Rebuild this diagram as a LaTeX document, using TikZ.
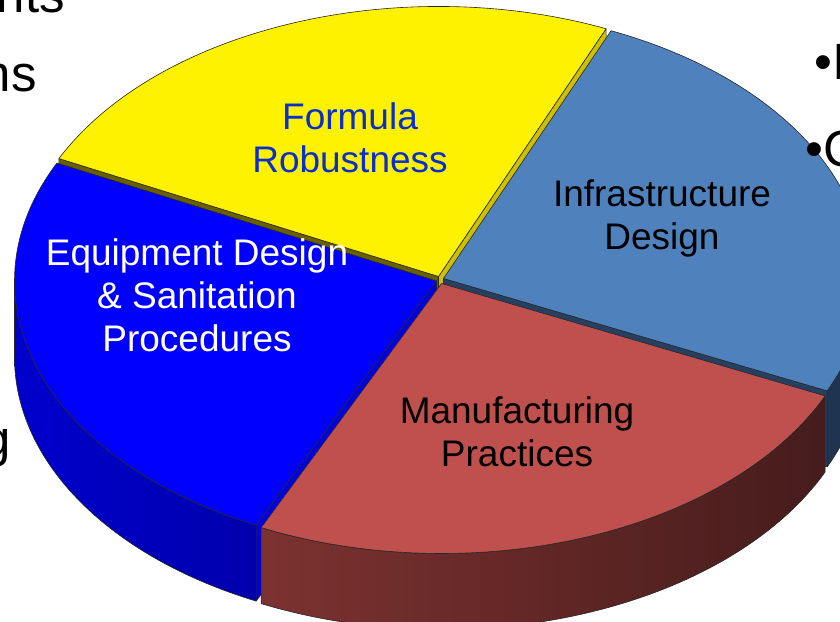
\documentclass[tikz,border=0pt]{standalone}
\usepackage{fontspec}
\setmainfont{Liberation Sans}
\definecolor{ytop}{RGB}{255,242,0}
\definecolor{ycutA}{RGB}{205,192,0}
\definecolor{ycutB}{RGB}{105,95,0}
\definecolor{btop}{RGB}{0,0,255}
\definecolor{bcut}{RGB}{0,0,228}
\definecolor{bsideL}{RGB}{0,0,205}
\definecolor{bsideR}{RGB}{0,0,172}
\definecolor{stop}{RGB}{79,129,189}
\definecolor{scut}{RGB}{38,64,98}
\definecolor{sside}{RGB}{31,52,80}
\definecolor{rtop}{RGB}{192,80,77}
\definecolor{rsideL}{RGB}{124,50,48}
\definecolor{rsideR}{RGB}{70,28,28}
\definecolor{formulablue}{RGB}{10,45,205}
\begin{document}
\begin{tikzpicture}[x=1pt,y=1pt,
  edge/.style={draw=black!85,line width=0.6pt,line join=round},
  slicelabel/.style={font=\fontsize{37}{43}\selectfont,align=center,inner sep=0pt},
  slidetext/.style={font=\fontsize{51}{60}\selectfont,inner sep=0pt,text=black}]
\useasboundingbox (0,0) rectangle (840,621);
\clip (0,0) rectangle (840,621);

% ---- Formula Robustness (back slice) ----
\begin{scope}[shift={(438.5,344.5)}]
  \coordinate (yc) at (0,0);
  \filldraw[edge,fill=ycutA] (yc) -- (66.6:422 and 270) -- ++(0,-76) -- (0,-76) -- cycle;
  \filldraw[edge,fill=ycutB] (yc) -- (154.1:422 and 270) -- ++(0,-76) -- (0,-76) -- cycle;
  \filldraw[edge,fill=ytop] (yc) -- (66.6:422 and 270)
    arc[start angle=66.6,end angle=154.1,x radius=422,y radius=270] -- cycle;
\end{scope}

% ---- Infrastructure Design ----
\begin{scope}[shift={(443.5,342.5)}]
  \coordinate (sc) at (0,0);
  \filldraw[edge,fill=scut] (sc) -- (335.4:422 and 270) -- ++(0,-76) -- (0,-76) -- cycle;
  \filldraw[edge,fill=sside] (335.4:422 and 270)
    arc[start angle=335.4,end angle=360,x radius=422,y radius=270] -- ++(0,-76)
    arc[start angle=360,end angle=335.4,x radius=422,y radius=270] -- cycle;
  \filldraw[edge,fill=stop] (sc) -- (335.4:422 and 270)
    arc[start angle=335.4,end angle=426.6,x radius=422,y radius=270] -- cycle;
\end{scope}

% ---- Equipment Design & Sanitation Procedures ----
\begin{scope}[shift={(436.5,340)}]
  \coordinate (bc) at (0,0);
  \filldraw[edge,fill=bcut] (bc) -- (244.7:422 and 270) -- ++(0,-76) -- (0,-76) -- cycle;
  \path[left color=bsideL,right color=bsideR] (180:422 and 270)
    arc[start angle=180,end angle=244.7,x radius=422,y radius=270] -- ++(0,-76)
    arc[start angle=244.7,end angle=180,x radius=422,y radius=270] -- cycle;
  \draw[edge] (180:422 and 270)
    arc[start angle=180,end angle=244.7,x radius=422,y radius=270] -- ++(0,-76)
    arc[start angle=244.7,end angle=180,x radius=422,y radius=270] -- cycle;
  \filldraw[edge,fill=btop] (bc) -- (154.1:422 and 270)
    arc[start angle=154.1,end angle=244.7,x radius=422,y radius=270] -- cycle;
\end{scope}

% ---- Manufacturing Practices (front slice) ----
\begin{scope}[shift={(441.5,337.5)}]
  \coordinate (rc) at (0,0);
  \path[left color=rsideL,right color=rsideR] (244.7:422 and 270)
    arc[start angle=244.7,end angle=335.4,x radius=422,y radius=270] -- ++(0,-76)
    arc[start angle=335.4,end angle=244.7,x radius=422,y radius=270] -- cycle;
  \draw[edge] (244.7:422 and 270)
    arc[start angle=244.7,end angle=335.4,x radius=422,y radius=270] -- ++(0,-76)
    arc[start angle=335.4,end angle=244.7,x radius=422,y radius=270] -- cycle;
  \filldraw[edge,fill=rtop] (rc) -- (244.7:422 and 270)
    arc[start angle=244.7,end angle=335.4,x radius=422,y radius=270] -- cycle;
\end{scope}

% ---- slice labels ----
\node[slicelabel,text=formulablue] (formula) at (350,483) {Formula\\Robustness};
\node[slicelabel] (infra) at (662,403) {Infrastructure\\Design};
\node[slicelabel,text=white] (equip) at (197,326) {Equipment Design\\\& Sanitation\\Procedures};
\node[slicelabel] (manuf) at (517,189) {Manufacturing\\Practices};

% ---- surrounding slide text ----
\node[slidetext,anchor=base east] (w1) at (65,608) {nts};
\node[slidetext,anchor=base east] (w2) at (37,529) {ns};
\node[slidetext,anchor=base east] (w3) at (11,164) {g};
\node[slidetext,anchor=base west] (w4) at (814,541) {•I};
\node[slidetext,anchor=base west] (w5) at (805,454) {•C};
\end{tikzpicture}
\end{document}
